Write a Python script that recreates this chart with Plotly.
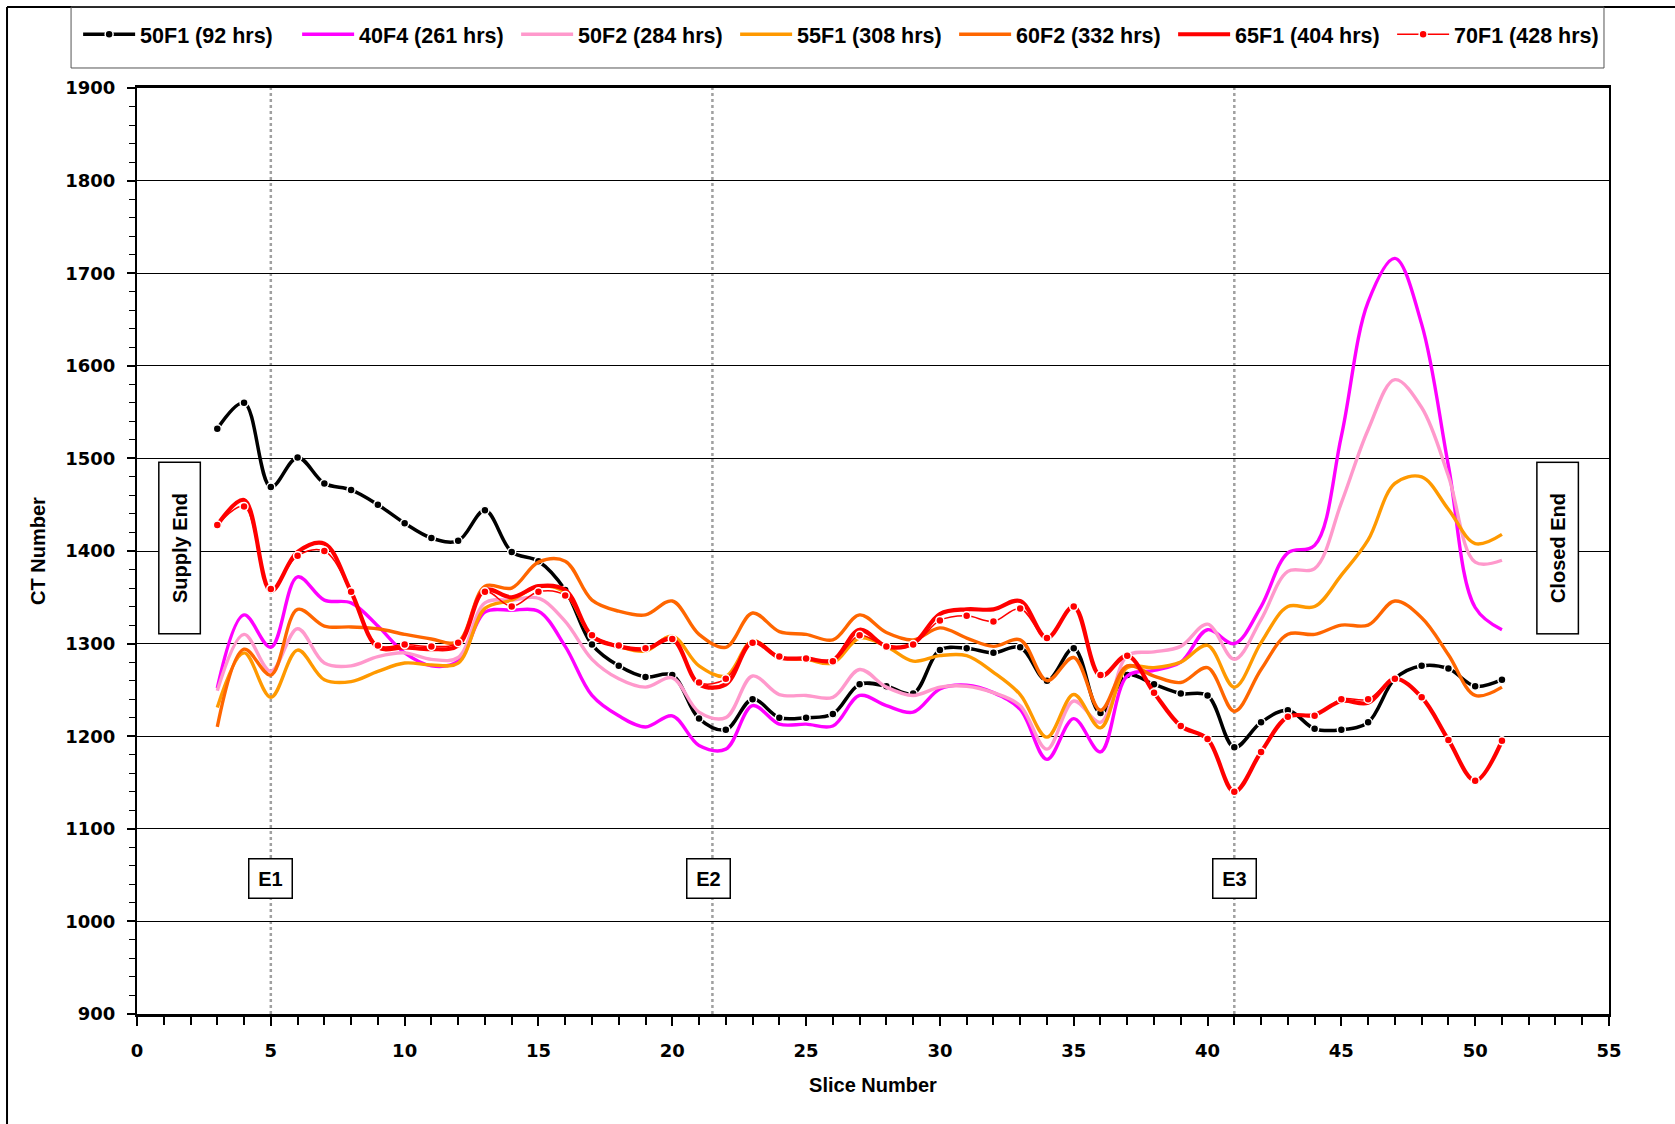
import plotly.graph_objects as go

slices = list(range(3, 52))

s50F1 = [1532, 1560, 1469, 1501, 1473, 1466, 1450, 1430, 1414, 1411, 1444, 1399, 1389, 1358,
         1299, 1276, 1264, 1266, 1219, 1207, 1240, 1220, 1220, 1224, 1256, 1254, 1246, 1293,
         1295, 1290, 1296, 1260, 1295, 1225, 1266, 1256, 1246, 1244, 1188, 1215, 1228, 1208,
         1207, 1215, 1262, 1276, 1273, 1254, 1261]
s40F4 = [1252, 1331, 1296, 1372, 1347, 1344, 1319, 1290, 1276, 1281, 1334, 1336, 1335, 1297,
         1244, 1222, 1210, 1222, 1190, 1186, 1233, 1213, 1213, 1211, 1244, 1233, 1226, 1251,
         1255, 1247, 1229, 1175, 1219, 1183, 1265, 1271, 1280, 1315, 1300, 1340, 1398, 1406,
         1524, 1669, 1716, 1645, 1492, 1339, 1315]
s50F2 = [1249, 1310, 1270, 1316, 1279, 1276, 1286, 1290, 1283, 1285, 1344, 1347, 1349, 1324,
         1283, 1262, 1253, 1263, 1226, 1220, 1265, 1245, 1244, 1242, 1272, 1253, 1244, 1253,
         1254, 1247, 1233, 1186, 1238, 1215, 1287, 1291, 1297, 1321, 1283, 1326, 1378, 1381,
         1452, 1531, 1585, 1555, 1481, 1388, 1390]
s55F1 = [1231, 1290, 1242, 1293, 1261, 1259, 1270, 1279, 1277, 1279, 1338, 1347, 1362, 1355,
         1308, 1297, 1292, 1308, 1276, 1265, 1303, 1285, 1283, 1279, 1306, 1297, 1281, 1287,
         1287, 1269, 1245, 1199, 1245, 1209, 1274, 1274, 1280, 1298, 1253, 1301, 1340, 1340,
         1374, 1412, 1473, 1480, 1445, 1408, 1418]
s60F2 = [1210, 1294, 1266, 1337, 1319, 1318, 1316, 1310, 1305, 1302, 1362, 1360, 1388, 1389,
         1347, 1335, 1331, 1346, 1310, 1296, 1333, 1313, 1310, 1304, 1331, 1312, 1304, 1317,
         1306, 1297, 1304, 1260, 1285, 1228, 1276, 1265, 1258, 1274, 1227, 1272, 1310, 1310,
         1320, 1320, 1346, 1328, 1288, 1244, 1253]
s65F1 = [1428, 1455, 1357, 1399, 1408, 1356, 1296, 1296, 1294, 1298, 1358, 1350, 1362, 1358,
         1308, 1297, 1294, 1305, 1256, 1256, 1302, 1285, 1284, 1282, 1315, 1297, 1300, 1332,
         1337, 1337, 1346, 1306, 1340, 1265, 1287, 1247, 1211, 1197, 1140, 1183, 1221, 1223,
         1238, 1236, 1262, 1242, 1196, 1152, 1195]
s70F1 = [1428, 1448, 1359, 1395, 1400, 1356, 1298, 1299, 1297, 1301, 1356, 1340, 1356, 1352,
         1309, 1298, 1295, 1305, 1258, 1262, 1301, 1286, 1284, 1281, 1309, 1297, 1299, 1325,
         1330, 1324, 1338, 1306, 1340, 1266, 1287, 1247, 1211, 1197, 1140, 1183, 1221, 1222,
         1240, 1240, 1262, 1242, 1196, 1152, 1195]

names = ["50F1 (92 hrs)", "40F4 (261 hrs)", "50F2 (284 hrs)", "55F1 (308 hrs)",
         "60F2 (332 hrs)", "65F1 (404 hrs)", "70F1 (428 hrs)"]

event_x = [5, 21.5, 41]
event_labels = ["E1", "E2", "E3"]
event_label_x = [5, 21.35, 41]

x_ticks = list(range(0, 56, 5))
y_ticks = list(range(900, 1901, 100))

fig = go.Figure()

def add(y, name, color, width, markers=False):
    fig.add_trace(go.Scatter(
        x=slices, y=y, name=name,
        mode="lines+markers" if markers else "lines",
        line=dict(color=color, width=width, shape="spline", smoothing=1.0),
        marker=dict(color=color, size=8, line=dict(color="white", width=1.5)) if markers else None,
    ))

add(s50F1, names[0], "#000000", 3.5, markers=True)
add(s40F4, names[1], "#FF00FF", 3.4)
add(s50F2, names[2], "#FF99CC", 3.4)
add(s55F1, names[3], "#FF9900", 3.4)
add(s60F2, names[4], "#FF6600", 3.4)
add(s65F1, names[5], "#FF0000", 4.2)
add(s70F1, names[6], "#FF0000", 1.5, markers=True)

shapes = []
for ex in event_x:
    shapes.append(dict(type="line", xref="x", yref="y", x0=ex, x1=ex, y0=900, y1=1900,
                       line=dict(color="#A0A0A0", width=2.5, dash="dot"), layer="below"))
# outer frame (left and top edges)
shapes.append(dict(type="line", xref="paper", yref="paper", x0=-0.0883, x1=-0.0883,
                   y0=-0.15, y1=1.0875, line=dict(color="black", width=2)))
shapes.append(dict(type="line", xref="paper", yref="paper", x0=-0.0883, x1=1.06,
                   y0=1.0875, y1=1.0875, line=dict(color="black", width=2)))
# legend box
shapes.append(dict(type="rect", xref="paper", yref="paper", x0=-0.0448, x1=0.9966,
                   y0=1.0216, y1=1.0875, line=dict(color="#555555", width=1)))

annotations = []
for lx, lab in zip(event_label_x, event_labels):
    annotations.append(dict(x=lx, y=1046, xref="x", yref="y", text=lab, showarrow=False,
                            font=dict(family="Liberation Sans, Arial", size=20, color="black", weight="bold"),
                            bgcolor="white", bordercolor="black", borderwidth=1.5, borderpad=0,
                            width=42, height=38))
for tx, txt in [(1.58, "Supply End"), (53.07, "Closed End")]:
    annotations.append(dict(x=tx, y=1403, xref="x", yref="y", text=txt, showarrow=False,
                            textangle=-90,
                            font=dict(family="Liberation Sans, Arial", size=20, color="black", weight="bold"),
                            bgcolor="white", bordercolor="black", borderwidth=1.5, borderpad=0,
                            width=170, height=40))

tickfont = dict(family="DejaVu Sans, Liberation Sans", size=18, color="black", weight="bold")
titlefont = dict(family="Liberation Sans, Arial", size=20, color="black", weight="bold")

fig.update_layout(
    width=1675, height=1124,
    margin=dict(l=137, r=66, t=88, b=110),
    paper_bgcolor="white", plot_bgcolor="white",
    showlegend=True,
    legend=dict(orientation="h", x=-0.040, xanchor="left", y=1.058, yanchor="middle",
                font=dict(family="Liberation Sans, Arial", size=21.5, color="black", weight="bold"),
                itemwidth=52, entrywidth=152, entrywidthmode="pixels",
                bgcolor="rgba(0,0,0,0)", borderwidth=0, traceorder="normal"),
    xaxis=dict(range=[0, 55], tickvals=x_ticks, ticktext=[str(v) for v in x_ticks],
               showgrid=False, zeroline=False,
               showline=True, linecolor="black", linewidth=2.5, mirror=True,
               ticks="outside", ticklen=9, tickwidth=2, tickcolor="black",
               minor=dict(dtick=1, ticks="outside", ticklen=8, tickwidth=1.5, tickcolor="black"),
               tickfont=tickfont, ticklabelstandoff=10,
               title=dict(text="Slice Number", font=titlefont, standoff=18)),
    yaxis=dict(range=[900, 1900], tickvals=y_ticks, ticktext=[str(v) for v in y_ticks],
               showgrid=True, gridcolor="black", gridwidth=1, zeroline=False,
               showline=True, linecolor="black", linewidth=2, mirror=True,
               ticks="outside", ticklen=8, tickwidth=1.5, tickcolor="black",
               minor=dict(dtick=20, ticks="outside", ticklen=6, tickwidth=1.2, tickcolor="black",
                          showgrid=False),
               tickfont=tickfont, ticklabelstandoff=8,
               title=dict(text="CT Number", font=titlefont, standoff=14)),
    shapes=shapes,
    annotations=annotations,
)

fig.write_html("out.html", config={"displayModeBar": False},
               post_script="document.body.style.margin='0';")
